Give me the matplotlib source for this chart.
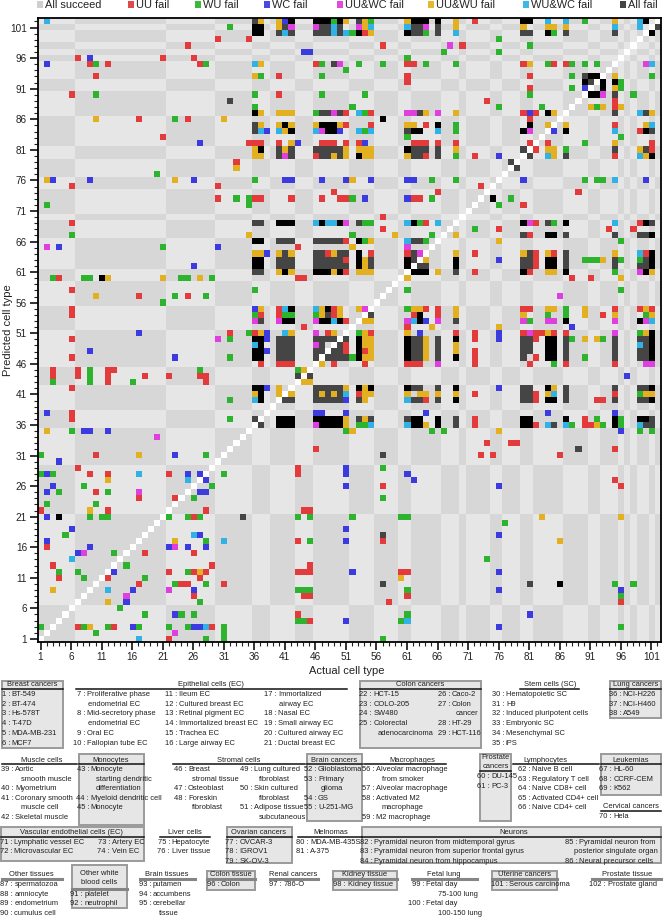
import re
import numpy as np
import matplotlib
matplotlib.use("Agg")
import matplotlib.pyplot as plt
from matplotlib.colors import ListedColormap, BoundaryNorm
from matplotlib.patches import Rectangle
from matplotlib.lines import Line2D

plt.rcParams['font.family'] = ['Liberation Sans', 'DejaVu Sans']

# ---- data -------------------------------------------------------------
cell_names = [
    "BT-549", "BT-474", "Hs-578T", "T-47D", "MDA-MB-231", "MCF7",
    "Proliferative phase\nendometrial EC", "Mid-secretory phase\nendometrial EC", "Oral EC",
    "Fallopian tube EC", "Ileum EC", "Cultured breast EC", "Retinal pigment EC",
    "Immortalized breast EC", "Trachea EC", "Large airway EC", "Immortalized\nairway EC",
    "Nasal EC", "Small airway EC", "Cultured airway EC", "Ductal breast EC",
    "HCT-15", "COLO-205", "SW480", "Colorectal\nadenocarcinoma", "Caco-2", "Colon\ncancer",
    "HT-29", "HCT-116",
    "Hematopoietic SC", "H9", "Induced pluripotent cells", "Embryonic SC", "Mesenchymal SC", "iPS",
    "NCI-H226", "NCI-H460", "A549",
    "Aortic\nsmooth muscle", "Myometrium", "Coronary smooth\nmuscle cell", "Skeletal muscle",
    "Monocyte\nstarting dendritic\ndifferentiation", "Myeloid dendritic cell", "Monocyte",
    "Breast\nstromal tissue", "Osteoblast", "Foreskin\nfibroblast", "Lung cultured\nfibroblast",
    "Skin cultured\nfibroblast", "Adipose tissue\nsubcutaneous",
    "Glioblastoma", "Primary\nglioma", "GS", "U-251-MG",
    "Alveolar macrophage\nfrom smoker", "Alveolar macrophage", "Activated M2\nmacrophage", "M2 macrophage",
    "DU-145", "PC-3",
    "Naive B cell", "Regulatory T cell", "Naive CD8+ cell", "Activated CD4+ cell", "Naive CD4+ cell",
    "HL-60", "CCRF-CEM", "K562",
    "Hela",
    "Lymphatic vessel EC", "Microvascular EC", "Artery EC", "Vein EC",
    "Hepatocyte", "Liver tissue",
    "OVCAR-3", "IGROV1", "SK-OV-3",
    "MDA-MB-435S", "A-375",
    "Pyramidal neuron from midtemporal gyrus", "Pyramidal neuron from superior frontal gyrus",
    "Pyramidal neuron from hippocampus", "Pyramidal neuron from\nposterior singulate organ",
    "Neural precursor cells",
    "spermatozoa", "amniocyte", "endometrium", "cumulus cell",
    "platelet", "neutrophil",
    "putamen", "accumbens", "cerebellar\ntissue",
    "Colon", "786-O", "Kidney tissue", "Fetal day\n75-100 lung", "Fetal day\n100-150 lung",
    "Serous carcinoma", "Prostate gland",
]

group_names = [
    "Breast cancers", "Epithelial cells (EC)", "Colon cancers", "Stem cells (SC)", "Lung cancers",
    "Muscle cells", "Monocytes", "Stromal cells", "Brain cancers", "Macrophages",
    "Prostate\ncancers", "Lymphocytes", "Leukemias", "Cervical cancers",
    "Vascular endothelial cells (EC)", "Liver cells", "Ovarian cancers", "Melnomas", "Neurons",
    "Other tissues", "Other white\nblood cells", "Brain tissues", "Colon tissue", "Renal cancers",
    "Kidney tissue", "Fetal lung", "Uterine cancers", "Prostate tissue",
]
group_first = [1, 7, 22, 30, 36, 39, 43, 46, 52, 56, 60, 62, 67, 70, 71, 75, 77, 80, 82,
               87, 91, 93, 96, 97, 98, 99, 101, 102]

outcomes = ["All succeed", "UU fail", "WU fail", "WC fail", "UU&WC fail", "UU&WU fail",
            "WU&WC fail", "All fail"]

# predicted row: actual column(s) + outcome code
# r=UU, g=WU, b=WC, m=UU&WC, y=UU&WU, c=WU&WC, k/K=all fail
fail_rows = [
    "102: 2c 36k 37y 40y 41b 42K 46-48K 49g 50K 51y 53k 54y 55g 61y 62-64K 66K 69y 72r 80-81K 84c 87c 90g 95y 99c 100K",
    "101: 32g 36-37K 40y 41k 42m 46m 47-48k 49c 50k 53m 54y 55c 61c 62-63k 64m 66k 69y 80y 84-85y 87y 95c 99c 102k",
    "100: 36-37K 40k 41c 42k 46-48k 49c 50k 51c 52g 53K 54r 55y 61K 62-63k 64g 66k 69c 80-81k 84K 85g 87k 95k 101K",
    "99: 30r 35r 76g",
    "98: 25r 57r 68m 70r 81g",
    "97: 44-45b 67g 76g",
    "96: 7r 9b 21r 26r 61g",
    "95: 2b 9r 10g 12r 27r 28g 36c 37y 46r 47g 49k 50m 53g 57g 61-62r 64g 69g 80r 81y 84g 85r 87r 88g 90g 92g 100m 101c",
    "94: 51g",
    "93: 10r 36y 37g 40r 47g 61r 81r 88g 90k 91-92K 95y 101g",
    "92: 61r 90K 91k 93K 95K 96g",
    "91: 81r 88g 90b 93K 95y 96g",
    "90: 6r 10g 36g 40r 47g 54g 81g 91-92K 93m 95k 98g",
    "89: 32k 74r 95r",
    "88: 36g 52g 76g 83g 91y 92g 93y 95r 96y",
    "87: 36K 37y 40-42y 46g 47-48k 49m 50k 51r 53c 54g 55r 61-62m 63k 64y 66m 69y 80r 81b 82r 84K 85y 95k 99c 100k 101y",
    "86: 10y 17r 23g 25r 31y 57K 81r",
    "85: 36k 37y 40y 41K 42y 46y 47-49K 50y 51r 55r 61-62y 64r 66K 69g 81K 84y 87y 95r 100y 101c",
    "84: 36k 37c 38b 40c 41y 42K 46c 47m 48-49K 50b 53c 54g 55c 61k 62-63K 66c 69g 80K 81m 85b 87K 95c 99r 100K 101k",
    "83: 21r 61g 96g",
    "82: 27b 35r 36-37r 40r 42y 43b 47-49r 51r 53r 54b 62-64r 66r 69r 81r 84r 90g 95y 101r",
    "81: 36y 37K 40k 41y 42k 46-50k 51y 53-55y 61K 62-64k 66k 69y 80k 82r 84-85y 87g 95k 99y 100k 101r",
    "80: 36-37y 40k 41m 42k 46r 47-48k 49y 50k 51y 53K 54-55y 61y 62-63k 64r 66k 69g 72r 76b 81k 84c 85y 87k 95r 99c 100y 101K",
    "79: 33r 78k",
    "78: 33y 79k",
    "77: 20g",
    "76: 2y 3b 9b 23y 26b 36g 41-42b 47b 51b 52y 55b 61-62b 65g 69g 80b 90g 92-93g 95c 100b",
    "75: 6r 30r 73r",
    "74: 49r 66r 89r",
    "73: 30r 33g 35g 36-37r 42r 47r 50-51r 52g 54b 61b 62-63r 65g 75K 78g",
    "72: 2g 35g 76g 80r",
    "70: 57r",
    "69: 6r 36-37k 40-42K 46c 47K 48-49c 50K 51m 53k 54-55g 61c 62K 63g 64r 66c 80K 81m 82r 84k 85g 87K 95c 99r 100K 101k",
    "68: 57r 72g 76r 94r 98r",
    "67: 6g 35y 52g 59y 65g 69y 80k 81r 84-85K 87k 95k 99-100k 101K",
    "66: 36-37K 40-42k 46-50k 51r 53K 54g 55y 61c 62-63k 64g 76y 96g",
    "65: 2m 4b 21g 30b 43r 52y 61m",
    "64: 36-37y 38b 40y 41k 42y 46-47k 48r 49y 50-51k 53K 55r 61r 62k 63m 69y 72r 80y 81k 82r 84y 85r 87k 95y 99c 100r 101K",
    "63: 36-37K 40-42k 46-50k 51r 53K 54y 55k 61K 62k 64y 69K 76b 80-81k 82r 84-85K 87k 90-92g 93y 95k 96g 99g 100k 101K",
    "62: 26b 36-37K 40-42k 46-51k 53K 54y 55k 61K 63-64k 69K 80-81k 82r 84-85K 87k 95k 99-100k 101K",
    "61: 36-37k 40y 41K 42y 46-48K 49y 50K 51r 53-55y 62-64K 66y 69k 72r 80K 81r 84-85y 87K 95g 99m 100K 101y",
    "60: 3g 4r 8-9g 11K 12y 21y 24-25g 27y 29g 43-44r 61y 88r 91r 96y",
    "58: 6r 36g 61g 96g",
    "57: 10y 17r 23g 25r 28g 86m",
    "56: 21g",
    "55: 6r 36b 37y 40r 41c 42K 46c 47y 48K 49r 50y 53y 54m 61g 62-63y 64r 66r 69y 80-81r 84-85y 87g 90y 95r 99r 100y 101r",
    "54: 6r 36g 37r 40r 41-42g 46g 47y 48k 49r 50y 55k 62r 63K 66r 69y 80y 84g 87g 90y 93r 95y 100g 101y",
    "53: 36m 37k 40m 41-42K 46m 47-48K 49c 50K 51r 54-55y 61m 62c 63K 64b 66m 69k 80m 81g 84-85m 87K 95m 99K 100m 101c",
    "52: 44r 61r 65y 76y 88b",
    "51: 17b 32r 35g 36r 37y 38b 41c 42y 46m 48r 49y 53g 54y 55r 61y 63b 69r 72r 76b 80r 81m 82-83r 84y 85r 87r 95m 99g 100y 101K",
    "50: 6r 30m 32g 36-37K 38b 40-42k 46-49k 51k 53K 54-55y 61K 62-63k 64y 66k 69K 72r 76b 80-81k 82r 84-85K 87k 88g 90y 92y 93g 95k 99-100k 101K",
    "49: 36c 37K 40-42k 46m 47k 50k 51r 53K 54-55y 61K 62-63k 64y 66k 69y 80-81k 84-85K 87k 95k 99c 100k 101K",
    "48: 9b 36-37K 38b 40-42k 46-47k 49-50k 51r 53K 54r 55y 61K 62-63k 64y 66k 69y 72r 80-81k 84-85K 87k 95k 99-100k 101K",
    "47: 6r 23b 32g 36-37K 40-42k 46k 48-51k 52g 53K 54-55y 61K 62-63k 64y 66k 69K 72r 80k 82r 84-85K 87k 90g 95k 99-100k 101K",
    "46: 37r 40-42r 47y 49r 54r 61-63r 66m 72r 81r 85g 87r 95r 100-101m",
    "45: 3r 7r 9g 12-13r 27g 43g 44y",
    "44: 3r 7r 9g 12r 18r 22r 27-28r 43k 45k 97b",
    "43: 3g 9g 12r 16g 28r 44-45y",
    "42: 6r 36-37K 38b 40y 46-50k 51y 53K 54y 55K 61K 62-63k 66k 69K 76b 80-81k 84K 85y 87k 95k 99-100k 101K",
    "41: 36y 37K 40y 42y 46k 47y 48k 49y 50k 51c 53r 54-55y 61y 63-64y 66y 69y 72r 80-81k 82r 84y 85c 87k 95r 99g 100-101y",
    "40: 32g 36c 37K 41-42k 46-50k 51b 53k 54y 61c 62-63k 64r 66k 69K 80-81k 82r 84-85K 87k 92-93r 95k 99-100k 101K",
    "38: 2b 6r 46-47b 51b 64b 84b 95b",
    "37: 6r 32g 36k 40-42K 46-50K 51y 53k 54y 55k 61k 62-63K 66K 69k 72r 80-81K 87K 90r 92g 95K 96g 99-100K 101k",
    "36: 37k 40-42K 46m 47-50K 51y 53-54g 55c 61c 62-63K 64y 66K 69k 72r 80-81K 82r 84c 85k 87c 88g 90-91r 92y 93g 95K 96g 99c 100-101k",
    "35: 2y 6g 8-9b 12b 51g 52y 65g 67g 76y 96b 99g 101g",
    "34: 20m",
    "33: 74r 78-79r",
    "32: 46r 89k 95r",
    "31: 1g 10r 17y 23b 28g 57k 73r 75r 86r",
    "30: 4b",
    "29: 7r 43r 51b 57g",
    "28: 1g 2b 3g 9r 12r 17c 22r 25b 27b 31g 43r 51b 61b",
    "27: 12y 25c 28b 62b 95r",
    "26: 3b 8g 29g 51b 57r 76b 96r",
    "25: 2b 4g 10r 12g 17m 27-28b",
    "24: 17r 23r 26g 57g",
    "23: 2g 10g",
    "22: 1r 9y 12r 28r 44-45r",
    "21: 2b 4K 9g 11-12g 22g 25g 26r 27g 34k 43g 45g 52g 60-61g 83y 96y",
    "20: 77g",
    "19: 6b 51b",
    "18: 5g 26c 27b 57k 76b",
    "17: 2b 23y 28g 31c 43r 45g 51b 57r 86y",
    "16: 2r 9b 22b 23m 25b 28b",
    "15: 7b 8m 13g 18r 26r",
    "14: 6c 74g",
    "13: 3r 15g 29r 45r",
    "12: 4g 7g 13b 22r 25g 26r 27y 28r 43-45r 52b 60-61r 76b",
    "11: 4r 8g 12r 18g 27r 60y",
    "10: 17r 23g 24-25r 28g 31r 57k 81k 86K 95g 98g",
    "9: 3y 12c 16b 22m 26b 43-45g 61g 76b 96b",
    "8: 15m 26r 44-45r 61r 96g",
    "7: 12y 15b 27g 58r 96r",
    "6: 14g",
    "5: 18g 23b 24g 26g 43r 61g 81b",
    "4: 43-44g 45r 51b 60g 61c",
    "3: 1g 7r 8g 9y 12g 13r 16b 17g 22g 25g 26-27b 28c 29r 31g 76b 96g",
    "2: 10g 23m 31g",
    "1: 17c 22r 28g 31g 57g",
]

# ---- build matrix -----------------------------------------------------
N = len(cell_names)
grp = np.zeros(N, dtype=int)
for gi, start in enumerate(group_first):
    grp[start - 1:] = gi

# 0 light bg, 1 dark bg, 2 diagonal, 3.. outcomes
mat = ((grp[:, None] + grp[None, :]) % 2 == 0).astype(int)
code_idx = {'r': 3, 'g': 4, 'b': 5, 'm': 6, 'y': 7, 'c': 8, 'k': 9, 'K': 10}
for line in fail_rows:
    row, rest = line.split(':')
    r = int(row)
    for a, b, code in re.findall(r'(\d+)(?:-(\d+))?([rgbmyckK])', rest):
        c0 = int(a)
        c1 = int(b) if b else c0
        mat[r - 1, c0 - 1:c1] = code_idx[code]
np.fill_diagonal(mat, 2)

colors = ['#e6e6e6', '#d7d7d7', '#ffffff', '#e33b3b', '#2eb32e', '#3b3be0', '#e03fe0',
          '#e2b020', '#30b2e4', '#454545', '#000000']
cmap = ListedColormap(colors)
norm = BoundaryNorm(np.arange(-0.5, len(colors)), len(colors))

W, H = 664, 917
fig = plt.figure(figsize=(W / 100, H / 100), dpi=100)


def fx(x):
    return x / W


def fy(y):
    return 1 - y / H


ax = fig.add_axes([fx(37.5), fy(642), fx(660.5) - fx(37.5), fy(18.4) - fy(642)])
ax.imshow(mat, cmap=cmap, norm=norm, origin='lower', aspect='auto',
          interpolation='nearest', extent=(0.5, N + 0.5, 0.5, N + 0.5))
ticks = list(range(1, N + 1, 5))
ax.set_xticks(ticks)
ax.set_yticks(ticks)
ax.set_xticks(range(1, N + 1), minor=True)
ax.set_yticks(range(1, N + 1), minor=True)
ax.tick_params(which='major', direction='out', length=5.5, width=1.3, labelsize=7.2,
               colors='#222222', pad=2)
ax.tick_params(which='minor', direction='out', length=3, width=0.8, colors='#222222')
for s in ax.spines.values():
    s.set_linewidth(1.3)

fig.text(fx(347), fy(671), "Actual cell type", ha='center', va='center', fontsize=8, color='#222222')
fig.text(fx(8), fy(330), "Predicted cell type", ha='center', va='center', fontsize=8,
         rotation=90, color='#222222')

# ---- legend ----------------------------------------------------------
leg_x = [37.3, 128, 194.7, 264, 336.7, 428, 522.7, 620]
leg_col = ['#cfcfcf', '#e04a4a', '#3cb83c', '#4a4ae0', '#e04ae0', '#e6b830', '#40b8e6', '#444444']
for x, lab, col in zip(leg_x, outcomes, leg_col):
    fig.add_artist(Rectangle((fx(x), fy(7.5)), 6 / W, 6 / H, transform=fig.transFigure,
                             fc=col, ec='none'))
    fig.text(fx(x + 8), fy(5), lab, ha='left', va='center', fontsize=7.9, color='#222222')

# ---- cell type key ---------------------------------------------------
TXT = '#1e1e1e'
FS = 5.4


def txt(x, y, s, ha='left'):
    fig.text(fx(x), fy(y), s, ha=ha, va='center', fontsize=FS, color=TXT)


def box(x0, y0, x1, y1):
    fig.add_artist(Rectangle((fx(x0), fy(y1)), (x1 - x0) / W, (y1 - y0) / H,
                             transform=fig.transFigure, fc='#e6e6e6', ec='#9a9a9a', lw=1.4,
                             zorder=0))


def hline(x0, x1, y, gray=False):
    fig.add_artist(Line2D([fx(x0), fx(x1)], [fy(y), fy(y)], transform=fig.transFigure,
                          color='#858585' if gray else '#111111', lw=2.2 if gray else 1.1))


def entries(first, last, name_x, y0, dy, indent):
    y = y0
    for n in range(first, last + 1):
        lines = cell_names[n - 1].split('\n')
        txt(name_x - 1.5, y, f"{n} :", ha='right')
        txt(name_x, y, lines[0])
        for extra in lines[1:]:
            y += dy
            txt(name_x + indent, y, extra)
        y += dy


# (group, box, title x, title y, underline x0, x1, y, gray, columns, dy, indent)
blocks = [
    (0, (1.5, 680.5, 62.5, 747.5), 32, 685, 1.5, 62.5, 689, False, [(1, 6, 11.7, 694.2)], 9.8, 4),
    (1, None, 211, 685, 76, 347, 689, False,
     [(7, 10, 87.3, 694.2), (11, 16, 179, 694.2), (17, 21, 278.3, 694.2)], 9.8, 1),
    (2, (360, 680.5, 481, 748), 420.5, 685, 360, 481, 689, False,
     [(22, 25, 373.3, 694.2), (26, 29, 451.7, 694.2)], 9.8, 4),
    (3, None, 550, 685, 520, 579, 689, False, [(30, 35, 506, 694.2)], 9.8, 4),
    (4, (610, 680.5, 661, 718), 635.5, 685, 610, 661, 689, False, [(36, 38, 622.7, 694.2)], 9.8, 4),
    (5, None, 41.7, 760, 1.5, 77, 764, False, [(39, 42, 15, 769.5)], 9.6, 6),
    (6, (79, 754, 143.5, 825), 111, 760, 79, 143.5, 764, False, [(43, 45, 90.7, 769.5)], 9.6, 5),
    (7, None, 239, 760, 173, 305, 764, False, [(46, 48, 188, 769.5), (49, 51, 254.5, 769.5)], 9.6, 4),
    (8, (306.5, 754, 361.5, 821), 334, 760, 306.5, 361.5, 764, False, [(52, 55, 318, 769.5)], 9.6, 3),
    (9, None, 412, 760, 364, 446, 764, False, [(56, 59, 376, 769.5)], 9.6, 6),
    (10, (480, 754, 511, 821), 495.5, 762, 480, 511, 771, False, [(60, 61, 491, 776.5)], 9.6, 4),
    (11, None, 545, 760, 513, 599, 764, False, [(62, 66, 532, 769.5)], 9.6, 4),
    (12, (601, 754, 661, 795), 631, 760, 601, 661, 764, False, [(67, 69, 613.5, 769.5)], 9.6, 4),
    (13, None, 631, 806, 601, 661, 811, False, [(70, 70, 613.5, 817)], 9.6, 4),
    (14, (1, 827, 143.5, 861), 71.7, 832, 1, 143.5, 836.5, False,
     [(71, 72, 14.5, 842), (73, 74, 111.7, 842)], 9.6, 4),
    (15, None, 185, 832, 160, 210, 836.5, False, [(75, 76, 171.7, 842)], 9.6, 4),
    (16, (226.5, 827, 291.5, 863), 258.5, 832, 226.5, 291.5, 836.5, False,
     [(77, 79, 239.3, 842)], 9.6, 4),
    (17, None, 331, 832, 298, 362, 836.5, False, [(80, 81, 310, 842)], 9.6, 4),
    (18, (361.5, 827, 661, 863), 514, 832, 361.5, 661, 836.5, False,
     [(82, 84, 374.5, 842), (85, 86, 579.3, 842)], 9.6, -5),
    (19, None, 31.7, 875, 1.5, 61.7, 879, True, [(87, 90, 14.5, 884.5)], 9.6, 4),
    (20, (71.7, 865, 126.7, 908), 99, 878, 71.7, 126.7, 888.7, True, [(91, 92, 84.5, 894)], 9.8, 4),
    (21, None, 166.7, 875, 140, 195, 879, True, [(93, 95, 153, 884.5)], 9.6, 6),
    (22, (207.3, 870.5, 255, 890), 231, 875, 207.3, 255, 879, True, [(96, 96, 221, 884.5)], 9.6, 4),
    (23, None, 293.3, 875, 270, 318, 879, True, [(97, 97, 283.5, 884.5)], 9.6, 4),
    (24, (333.3, 870.5, 396.7, 890), 365, 875, 333.3, 396.7, 879, True, [(98, 98, 347.5, 884.5)], 9.6, 4),
    (25, None, 444, 875, 411.7, 477, 879, True, [(99, 100, 426, 884.5)], 9.6, 12),
    (26, (492.3, 870.5, 556.7, 890), 524.5, 875, 492.3, 556.7, 879, True,
     [(101, 101, 509, 884.5)], 9.6, 4),
    (27, None, 626.7, 875, 591.7, 661, 879, True, [(102, 102, 607.5, 884.5)], 9.6, 4),
]

for g, bx, tx, ty, u0, u1, uy, gray, cols, dy, indent in blocks:
    if bx is not None:
        box(*bx)
    title_lines = group_names[g].split('\n')
    for i, tl in enumerate(title_lines):
        txt(tx, ty + (i - (len(title_lines) - 1) / 2) * 9.0, tl, ha='center')
    hline(u0, u1, uy, gray)
    for first, last, nx, y0 in cols:
        entries(first, last, nx, y0, dy, indent)

fig.savefig('out.png', dpi=100)
